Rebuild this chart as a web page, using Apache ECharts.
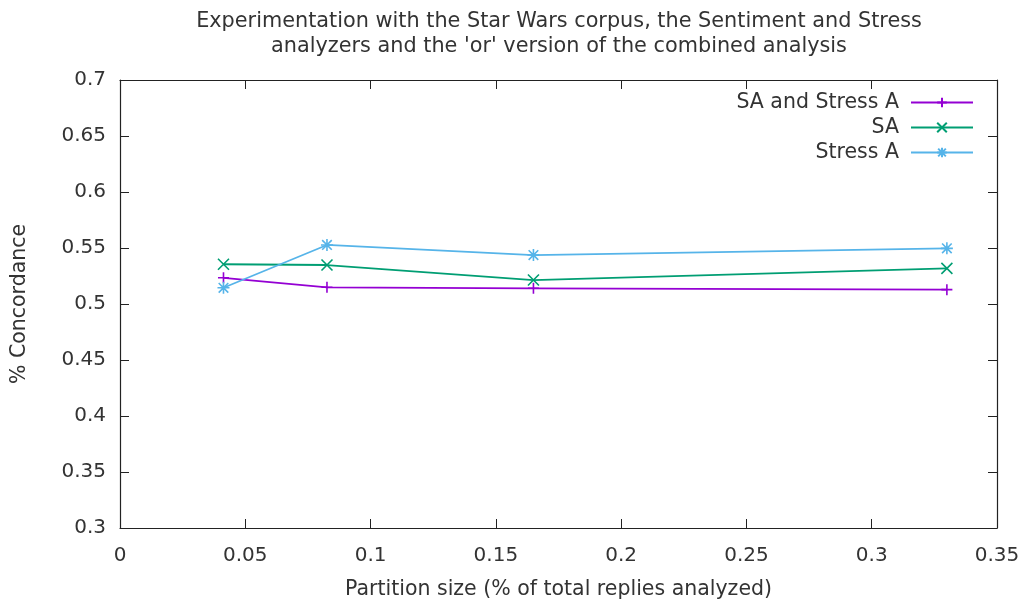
<!DOCTYPE html>
<html>
<head>
<meta charset="utf-8">
<script src="https://cdn.jsdelivr.net/npm/echarts@6/dist/echarts.min.js"></script>
<style>
html,body{margin:0;padding:0;background:#fff;}
#chart{width:1025px;height:602px;}
</style>
</head>
<body>
<div id="chart"></div>
<script>
// Partition sizes (fraction of total replies analyzed)
const partitionSizes = [0.0413, 0.0826, 0.165, 0.33];
// Concordance per analyzer setup
const saAndStress = [0.5234, 0.5149, 0.5140, 0.5128];
const saOnly = [0.5355, 0.5348, 0.5214, 0.5318];
const stressOnly = [0.5145, 0.5527, 0.5437, 0.5497];
const seriesNames = ['SA and Stress A', 'SA', 'Stress A'];

const FONT = 'DejaVu Sans';
const TXT = '#333';

const plusPath = 'path://M0,-10L0,10M-10,0L10,0';
const crossPath = 'path://M-10,-10L10,10M-10,10L10,-10';
const starPath = 'path://M0,-10L0,10M-10,0L10,0M-8,-8L8,8M-8,8L8,-8';

function pts(ys) { return partitionSizes.map((x, i) => [x, ys[i]]); }

function lineSeries(name, ys, color, symbol, size) {
  return {
    name, type: 'line', data: pts(ys),
    symbol, symbolSize: size,
    lineStyle: { color, width: 1.8 },
    itemStyle: { color: 'rgba(0,0,0,0)', borderColor: color, borderWidth: 1.6 },
    emphasis: { disabled: true },
    animation: false
  };
}

function ticks() {
  return { show: true, inside: true, length: 9, lineStyle: { color: '#222', width: 1 } };
}
function axisLine() {
  return { show: true, onZero: false, lineStyle: { color: '#222', width: 1.2 } };
}
function tickLabel(margin) {
  return { show: true, inside: false, fontFamily: FONT, fontSize: 20, color: TXT, margin,
           formatter: v => String(+v.toFixed(2)) };
}

const chart = echarts.init(document.getElementById('chart'));
chart.setOption({
  backgroundColor: '#fff',
  animation: false,
  title: {
    text: 'Experimentation with the Star Wars corpus, the Sentiment and Stress\nanalyzers and the \'or\' version of the combined analysis',
    left: 554, top: 4, textAlign: 'center',
    textStyle: { fontFamily: FONT, fontSize: 20.8, fontWeight: 'normal', color: TXT, lineHeight: 25 }
  },
  grid: { left: 120, top: 80, right: 28, bottom: 74, containLabel: false, outerBoundsMode: 'none' },
  legend: {
    orient: 'vertical', right: 51, top: 92, align: 'right', padding: 0,
    itemWidth: 62, itemHeight: 12, itemGap: 4,
    data: seriesNames,
    textStyle: { fontFamily: FONT, fontSize: 20.5, color: TXT, padding: [0, 7, 0, 0] }
  },
  xAxis: [{
    type: 'value', min: 0, max: 0.35, interval: 0.05, position: 'bottom',
    name: 'Partition size (% of total replies analyzed)', nameLocation: 'middle', nameGap: 51,
    nameMoveOverlap: false,
    nameTextStyle: { fontFamily: FONT, fontSize: 20.5, color: TXT },
    axisLine: axisLine(), axisTick: ticks(), splitLine: { show: false },
    axisLabel: tickLabel(18)
  }, {
    type: 'value', min: 0, max: 0.35, interval: 0.05, position: 'top',
    axisLine: axisLine(), axisTick: ticks(), axisLabel: { show: false }, splitLine: { show: false }
  }],
  yAxis: [{
    type: 'value', min: 0.3, max: 0.7, interval: 0.05, position: 'left',
    name: '% Concordance', nameLocation: 'middle', nameGap: 90, nameRotate: 90,
    nameMoveOverlap: false,
    nameTextStyle: { fontFamily: FONT, fontSize: 20.5, color: TXT },
    axisLine: axisLine(), axisTick: ticks(), splitLine: { show: false },
    axisLabel: tickLabel(14)
  }, {
    type: 'value', min: 0.3, max: 0.7, interval: 0.05, position: 'right',
    axisLine: axisLine(), axisTick: ticks(), axisLabel: { show: false }, splitLine: { show: false }
  }],
  series: [
    lineSeries(seriesNames[0], saAndStress, '#9400d3', plusPath, 11),
    lineSeries(seriesNames[1], saOnly, '#009e73', crossPath, 11),
    lineSeries(seriesNames[2], stressOnly, '#56b4e9', starPath, 12)
  ]
});
</script>
</body>
</html>
